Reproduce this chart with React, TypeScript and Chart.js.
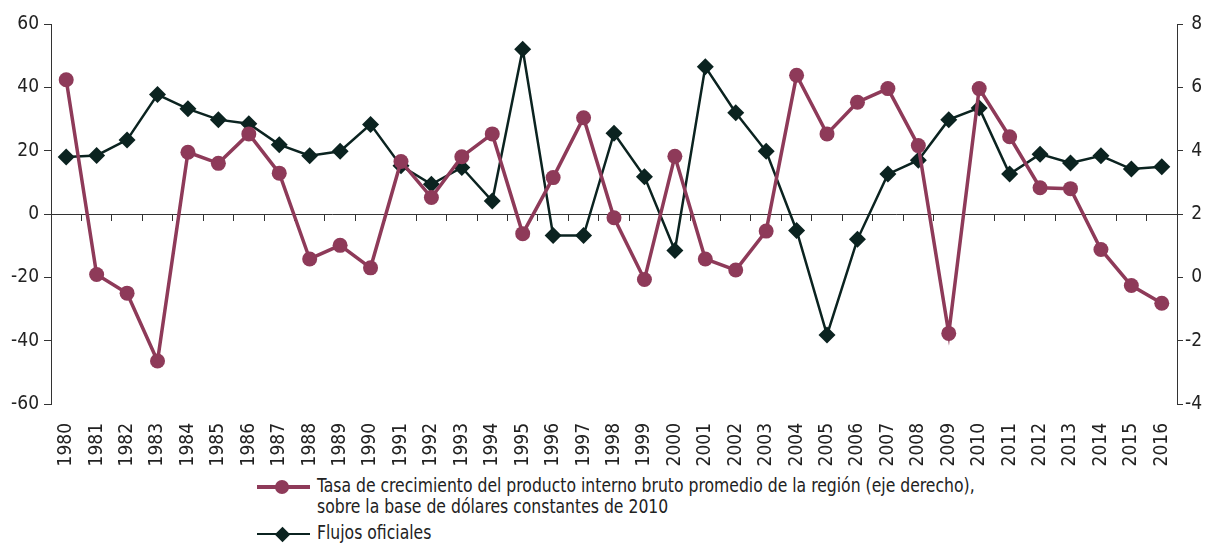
import React, { useEffect, useRef } from 'react';
import { Chart, registerables } from 'chart.js';

Chart.register(...registerables);

const years = [
  '1980', '1981', '1982', '1983', '1984', '1985', '1986', '1987', '1988', '1989',
  '1990', '1991', '1992', '1993', '1994', '1995', '1996', '1997', '1998', '1999',
  '2000', '2001', '2002', '2003', '2004', '2005', '2006', '2007', '2008', '2009',
  '2010', '2011', '2012', '2013', '2014', '2015', '2016',
];

// Right axis (%)
const gdpGrowth = [
  6.24, 0.09, -0.5, -2.64, 3.95, 3.6, 4.53, 3.29, 0.58, 1.01,
  0.3, 3.66, 2.52, 3.81, 4.53, 1.38, 3.15, 5.04, 1.88, -0.07,
  3.82, 0.58, 0.23, 1.46, 6.38, 4.53, 5.53, 5.96, 4.16, -1.77,
  5.96, 4.44, 2.83, 2.8, 0.88, -0.26, -0.82,
];

// Left axis
const officialFlows = [
  18.0, 18.5, 23.4, 37.7, 33.2, 29.8, 28.5, 21.9, 18.4, 19.8,
  28.3, 15.2, 9.4, 14.7, 4.1, 52.0, -6.8, -6.8, 25.5, 11.8,
  -11.5, 46.5, 32.0, 19.8, -5.2, -38.2, -8.0, 12.6, 17.0, 29.8,
  33.5, 12.6, 18.9, 16.1, 18.4, 14.2, 14.9,
];

const gdpLabel = [
  'Tasa de crecimiento del producto interno bruto promedio de la región (eje derecho),',
  'sobre la base de dólares constantes de 2010',
];
const flowsLabel = 'Flujos oficiales';

const leftMin = -60;
const leftMax = 60;
const leftStep = 20;
const rightMin = -4;
const rightMax = 8;
const rightStep = 2;

const MAROON = '#8e3a59';
const DARK = '#0b2320';
const AXIS = '#333333';
const TEXT = '#222222';
const FONT = '"Liberation Sans Narrow", "DejaVu Sans Condensed", "Arial Narrow", sans-serif';

export default function App() {
  const canvasRef = useRef<HTMLCanvasElement | null>(null);

  useEffect(() => {
    if (!canvasRef.current) return;
    const chart = new Chart(canvasRef.current, {
      type: 'line',
      data: {
        labels: years,
        datasets: [
          {
            label: gdpLabel.join(' '),
            data: gdpGrowth,
            yAxisID: 'y1',
            xAxisID: 'x',
            borderColor: MAROON,
            backgroundColor: MAROON,
            borderWidth: 3.5,
            pointStyle: 'circle',
            pointRadius: 7.5,
            pointBorderWidth: 0,
            pointBackgroundColor: MAROON,
            tension: 0,
          },
          {
            label: flowsLabel,
            data: officialFlows,
            yAxisID: 'y',
            xAxisID: 'x',
            borderColor: DARK,
            backgroundColor: DARK,
            borderWidth: 2.5,
            pointStyle: 'rectRot',
            pointRadius: 8.5,
            pointBorderWidth: 0,
            pointBackgroundColor: DARK,
            tension: 0,
          },
        ],
      },
      options: {
        animation: false,
        responsive: false,
        maintainAspectRatio: false,
        layout: { padding: { top: 24, left: 0, right: 3, bottom: 0 } },
        plugins: {
          legend: { display: false },
          tooltip: { enabled: false },
        },
        scales: {
          x: {
            type: 'category',
            position: 'bottom',
            offset: true,
            grid: { display: false },
            border: { display: false },
            ticks: {
              autoSkip: false,
              maxRotation: 90,
              minRotation: 90,
              padding: 11,
              color: TEXT,
              font: { family: FONT, size: 19 },
            },
            afterFit: (s: any) => {
              s.height = 66;
            },
          },
          xZero: {
            type: 'category',
            axis: 'x',
            position: { y: 0 },
            offset: true,
            grid: {
              display: true,
              drawOnChartArea: false,
              drawTicks: true,
              tickLength: 6,
              color: AXIS,
              lineWidth: 1,
              offset: true,
            },
            border: { display: true, color: AXIS, width: 1 },
            ticks: { display: false, autoSkip: false },
          } as any,
          y: {
            type: 'linear',
            position: 'left',
            min: leftMin,
            max: leftMax,
            ticks: {
              stepSize: leftStep,
              padding: 5,
              color: TEXT,
              font: { family: FONT, size: 19 },
            },
            grid: {
              drawOnChartArea: false,
              drawTicks: true,
              tickLength: 7,
              color: AXIS,
            },
            border: { display: true, color: AXIS, width: 1 },
            afterFit: (s: any) => {
              s.width = 51;
            },
          },
          y1: {
            type: 'linear',
            position: 'right',
            min: rightMin,
            max: rightMax,
            ticks: {
              stepSize: rightStep,
              padding: 4,
              crossAlign: 'far',
              color: TEXT,
              font: { family: FONT, size: 19 },
            },
            grid: {
              drawOnChartArea: false,
              drawTicks: true,
              tickLength: 6,
              color: AXIS,
            },
            border: { display: true, color: AXIS, width: 1 },
            afterFit: (s: any) => {
              s.width = 25;
            },
          },
        },
      },
    });
    return () => chart.destroy();
  }, []);

  const textStyle: React.CSSProperties = {
    position: 'absolute',
    left: 317,
    fontFamily: FONT,
    fontSize: 19,
    lineHeight: '21px',
    color: TEXT,
    whiteSpace: 'nowrap',
    transform: 'scaleX(0.915)',
    transformOrigin: '0 0',
  };
  const lineStyle = (color: string, top: number, w: number): React.CSSProperties => ({
    position: 'absolute',
    left: 257,
    top: top - w / 2,
    width: 53,
    height: w,
    background: color,
  });

  return (
    <div
      style={{
        position: 'fixed',
        left: 0,
        top: 0,
        width: 1205,
        height: 544,
        overflow: 'hidden',
        background: '#ffffff',
      }}
    >
      <canvas
        ref={canvasRef}
        width={1205}
        height={470}
        style={{ position: 'absolute', left: 0, top: 0, width: 1205, height: 470 }}
      />
      {/* Legend */}
      <div style={lineStyle(MAROON, 487, 3.5)} />
      <div
        style={{
          position: 'absolute',
          left: 282 - 7,
          top: 487 - 7,
          width: 14,
          height: 14,
          borderRadius: '50%',
          background: MAROON,
        }}
      />
      <div style={{ ...textStyle, top: 475 }}>
        {gdpLabel[0]}
        <br />
        {gdpLabel[1]}
      </div>
      <div style={lineStyle(DARK, 534, 2.5)} />
      <div
        style={{
          position: 'absolute',
          left: 282 - 5.5,
          top: 534 - 5.5,
          width: 11,
          height: 11,
          transform: 'rotate(45deg)',
          background: DARK,
        }}
      />
      <div style={{ ...textStyle, top: 522 }}>{flowsLabel}</div>
    </div>
  );
}
